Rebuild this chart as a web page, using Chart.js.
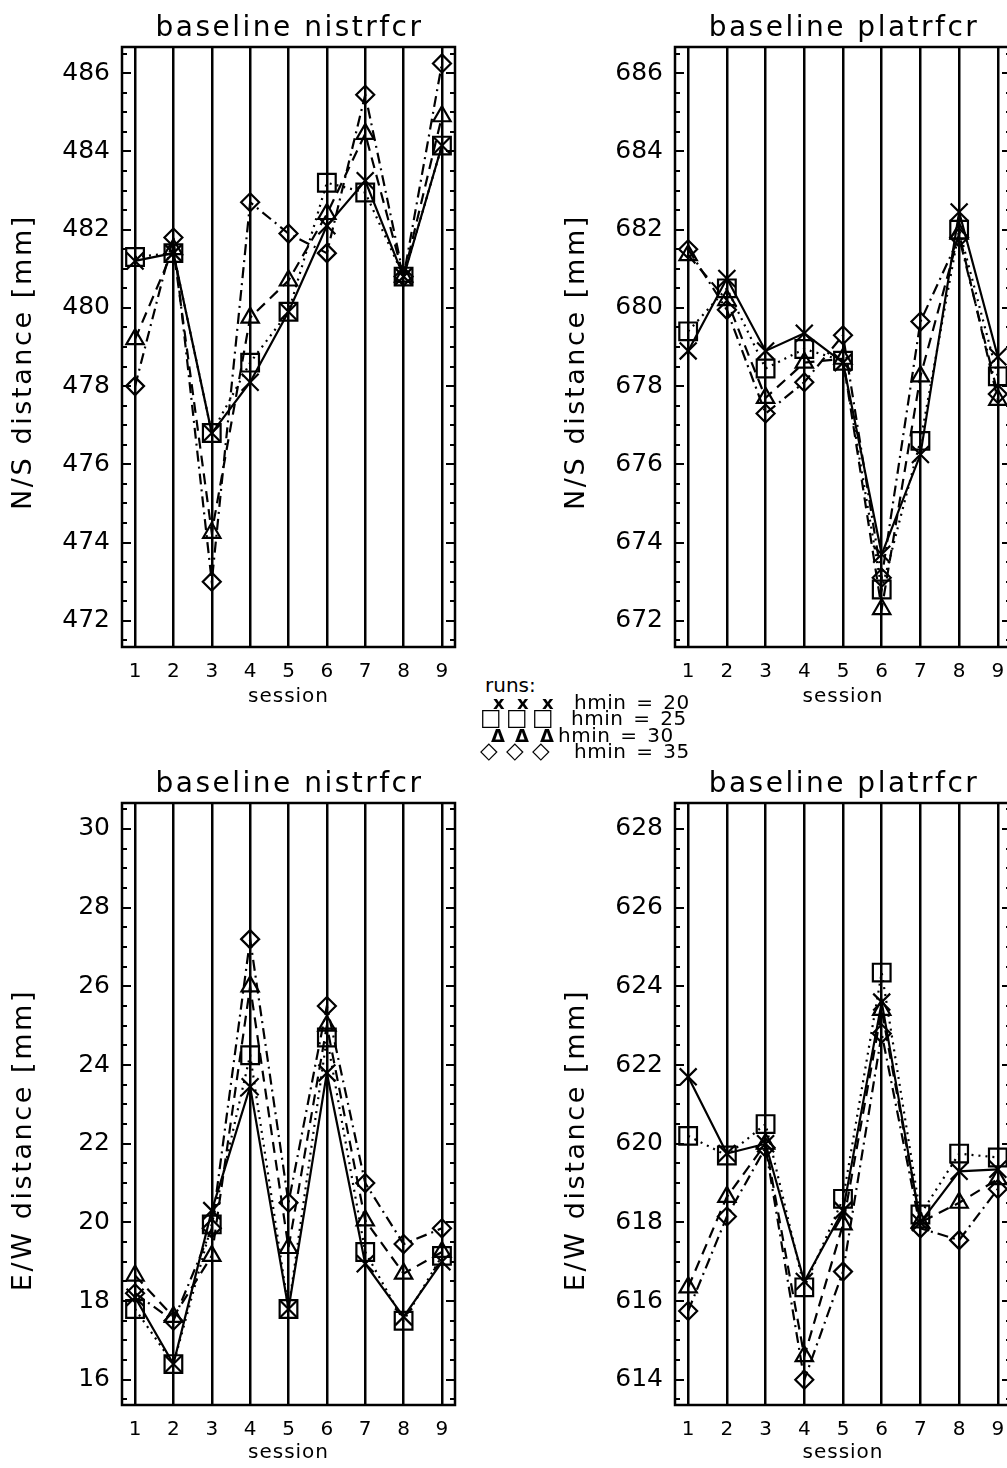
<!DOCTYPE html>
<html>
<head>
<meta charset="utf-8">
<title>baseline sessions</title>
<script src="https://cdn.jsdelivr.net/npm/chart.js@4.4.0/dist/chart.umd.min.js"></script>
<style>
    html, body {
        margin: 0;
        padding: 0;
        background: #fff;
        width: 1007px;
        height: 1468px;
        overflow: hidden;
        position: relative;
    }
    canvas {
        position: absolute;
    }
    .runs {
        position: absolute;
        font-family: "DejaVu Sans", sans-serif;
        font-size: 20px;
        color: #000;
        line-height: 18px;
        white-space: pre;
    }
    .runs span {
        position: absolute;
    }
    .runs .txt {
        letter-spacing: 0.5px;
        word-spacing: 3px;
    }
    .runs .sym {
        font-size: 18px;
        font-weight: bold;
    }
    .runs .box {
        font-size: 23px;
        font-weight: bold;
    }
</style>
</head>
<body>

<canvas id="nsNist" width="480" height="720" style="left:0px;top:0px"></canvas>
<canvas id="nsPlat" width="483" height="720" style="left:553px;top:0px"></canvas>
<canvas id="ewNist" width="480" height="722" style="left:0px;top:756px"></canvas>
<canvas id="ewPlat" width="483" height="722" style="left:553px;top:756px"></canvas>

<!-- run legend between the panels -->
<div class="runs" style="left:0;top:0">
    <span style="left:485px;top:676px">runs:</span>
    <span class="sym" style="left:493px;top:694px">x</span><span class="sym" style="left:517px;top:694px">x</span><span class="sym" style="left:542px;top:694px">x</span>
    <span class="txt" style="left:574px;top:693px">hmin = 20</span>
    <span class="box" style="left:480px;top:708px">□</span><span class="box" style="left:506px;top:708px">□</span><span class="box" style="left:532px;top:708px">□</span>
    <span class="txt" style="left:571px;top:709px">hmin = 25</span>
    <span class="sym" style="left:491px;top:727px">Δ</span><span class="sym" style="left:515px;top:727px">Δ</span><span class="sym" style="left:540px;top:727px">Δ</span>
    <span class="txt" style="left:558px;top:726px">hmin = 30</span>
    <span class="box" style="left:480px;top:741px">◇</span><span class="box" style="left:506px;top:741px">◇</span><span class="box" style="left:532px;top:741px">◇</span>
    <span class="txt" style="left:574px;top:742px">hmin = 35</span>
</div>

<script>
// sessions on the x axis
var sessions = [1, 2, 3, 4, 5, 6, 7, 8, 9];
var runLabels = ['hmin = 20', 'hmin = 25', 'hmin = 30', 'hmin = 35'];

// N/S distance, baseline nistrfcr [mm]
var nsNist20 = [481.2, 481.4, 476.8, 478.1, 479.9, 482.1, 483.25, 480.8, 484.15];
var nsNist25 = [481.3, 481.4, 476.8, 478.6, 479.9, 483.2, 482.95, 480.8, 484.15];
var nsNist30 = [479.2, 481.5, 474.25, 479.75, 480.7, 482.4, 484.45, 480.8, 484.9];
var nsNist35 = [478.0, 481.8, 473.0, 482.7, 481.9, 481.4, 485.45, 480.8, 486.25];

// N/S distance, baseline platrfcr [mm]
var nsPlat20 = [678.9, 680.75, 678.9, 679.35, 678.6, 673.7, 676.25, 682.45, 678.75];
var nsPlat25 = [679.4, 680.5, 678.45, 678.95, 678.65, 672.8, 676.6, 682.0, 678.25];
var nsPlat30 = [681.35, 680.2, 677.7, 678.6, 678.7, 672.3, 678.25, 681.9, 677.65];
var nsPlat35 = [681.5, 679.95, 677.3, 678.1, 679.3, 673.1, 679.65, 681.8, 677.8];

// E/W distance, baseline nistrfcr [mm]
var ewNist20 = [18.1, 16.4, 20.3, 23.45, 17.8, 23.8, 18.95, 17.6, 19.0];
var ewNist25 = [17.8, 16.4, 19.95, 24.25, 17.8, 24.7, 19.25, 17.5, 19.15];
var ewNist30 = [18.65, 17.6, 19.15, 26.0, 19.35, 25.0, 20.05, 18.7, 19.25];
var ewNist35 = [18.2, 17.5, 19.85, 27.2, 20.5, 25.5, 21.0, 19.45, 19.85];

// E/W distance, baseline platrfcr [mm]
var ewPlat20 = [621.7, 619.75, 620.0, 616.5, 618.3, 623.6, 618.0, 619.3, 619.35];
var ewPlat25 = [620.2, 619.7, 620.5, 616.35, 618.6, 624.35, 618.2, 619.75, 619.65];
var ewPlat30 = [616.35, 618.65, 620.0, 614.6, 617.95, 623.4, 618.0, 618.5, 619.1];
var ewPlat35 = [615.75, 618.15, 619.9, 614.0, 616.75, 622.8, 617.85, 617.55, 618.85];

// marker + line style per run (x solid, square dotted, triangle dashed, diamond dash-dot)
var runStyles = [
    { pointStyle: 'crossRot', pointRadius: 12, borderDash: [] },
    { pointStyle: 'rect', pointRadius: 12.5, borderDash: [2, 5] },
    { pointStyle: 'triangle', pointRadius: 10, borderDash: [11, 7] },
    { pointStyle: 'rectRot', pointRadius: 9, borderDash: [11, 5, 2, 5] }
];

var FONT = '"DejaVu Sans", sans-serif';

/**
 * Frame, inward ticks on both y borders, and the spaced titles
 */
const idlFrame = {
    id: 'idlFrame',
    beforeDatasetsDraw(chart) {
        const { ctx, chartArea: a, scales: { y } } = chart;
        ctx.save();
        ctx.strokeStyle = '#000';
        ctx.lineWidth = 2.5;
        ctx.strokeRect(a.left, a.top, a.right - a.left, a.bottom - a.top);
        ctx.lineWidth = 2;
        ctx.beginPath();
        for (let v = Math.ceil(y.min / 0.5) * 0.5; v <= y.max; v += 0.5) {
            const py = Math.round(y.getPixelForValue(v));
            const len = Math.abs(v % 2) < 1e-6 ? 9 : 5;
            ctx.moveTo(a.left, py);
            ctx.lineTo(a.left + len, py);
            ctx.moveTo(a.right, py);
            ctx.lineTo(a.right - len, py);
        }
        ctx.stroke();
        ctx.restore();
    },
    afterDraw(chart, args, opts) {
        const { ctx, chartArea: a } = chart;
        ctx.save();
        ctx.fillStyle = '#000';
        ctx.textAlign = 'center';
        ctx.textBaseline = 'alphabetic';

        ctx.font = '28px ' + FONT;
        ctx.letterSpacing = '2.5px';
        ctx.fillText(opts.title, (a.left + a.right) / 2 + 1, opts.titleY);

        ctx.font = '20px ' + FONT;
        ctx.letterSpacing = '1px';
        ctx.textBaseline = 'middle';
        ctx.fillText('session', (a.left + a.right) / 2, opts.sessionY);

        ctx.font = '27px ' + FONT;
        ctx.letterSpacing = '2.6px';
        ctx.translate(opts.yTitleX, opts.yTitleY);
        ctx.rotate(-Math.PI / 2);
        ctx.fillText(opts.yTitle, 0, 0);
        ctx.restore();
    }
};

/**
 * Build one session panel
 */
function sessionPanel(canvasId, runs, yMin, yMax, title, yTitle, yTitleY) {
    const datasets = runs.map((vals, r) => ({
        label: runLabels[r],
        data: sessions.map((s, i) => ({ x: s, y: vals[i] })),
        borderColor: '#000',
        borderWidth: 2.2,
        borderDash: runStyles[r].borderDash,
        pointStyle: runStyles[r].pointStyle,
        pointRadius: runStyles[r].pointRadius,
        pointBorderWidth: 2.2,
        pointBorderColor: '#000',
        pointBackgroundColor: 'rgba(0,0,0,0)',
        fill: false,
        tension: 0,
        clip: false
    }));

    return new Chart(document.getElementById(canvasId), {
        type: 'line',
        data: { datasets: datasets },
        plugins: [idlFrame],
        options: {
            responsive: false,
            animation: false,
            layout: { padding: { top: 47, right: 25, left: 0, bottom: 0 } },
            plugins: {
                legend: { display: false },
                tooltip: { enabled: false },
                idlFrame: {
                    title: title,
                    titleY: 36,
                    sessionY: 697,
                    yTitle: yTitle,
                    yTitleX: 24,
                    yTitleY: yTitleY
                }
            },
            scales: {
                x: {
                    type: 'linear',
                    min: 0.66,
                    max: 9.34,
                    afterFit: (scale) => { scale.height = 73; },
                    ticks: {
                        stepSize: 1,
                        includeBounds: false,
                        color: '#000',
                        padding: 13,
                        font: { family: FONT, size: 20 }
                    },
                    grid: {
                        color: '#000',
                        lineWidth: 2.5,
                        drawTicks: false
                    },
                    border: { display: false }
                },
                y: {
                    min: yMin,
                    max: yMax,
                    afterFit: (scale) => { scale.width = 122; },
                    ticks: {
                        stepSize: 2,
                        includeBounds: false,
                        color: '#000',
                        padding: 12,
                        font: { family: FONT, size: 25 }
                    },
                    grid: { display: false, drawTicks: false },
                    border: { display: false }
                }
            }
        }
    });
}

const nsNistChart = sessionPanel('nsNist', [nsNist20, nsNist25, nsNist30, nsNist35],
    471.33, 486.67, 'baseline nistrfcr', 'N/S distance [mm]', 362);
const nsPlatChart = sessionPanel('nsPlat', [nsPlat20, nsPlat25, nsPlat30, nsPlat35],
    671.33, 686.67, 'baseline platrfcr', 'N/S distance [mm]', 362);
const ewNistChart = sessionPanel('ewNist', [ewNist20, ewNist25, ewNist30, ewNist35],
    15.36, 30.66, 'baseline nistrfcr', 'E/W distance [mm]', 384);
const ewPlatChart = sessionPanel('ewPlat', [ewPlat20, ewPlat25, ewPlat30, ewPlat35],
    613.36, 628.66, 'baseline platrfcr', 'E/W distance [mm]', 384);
</script>
</body>
</html>
